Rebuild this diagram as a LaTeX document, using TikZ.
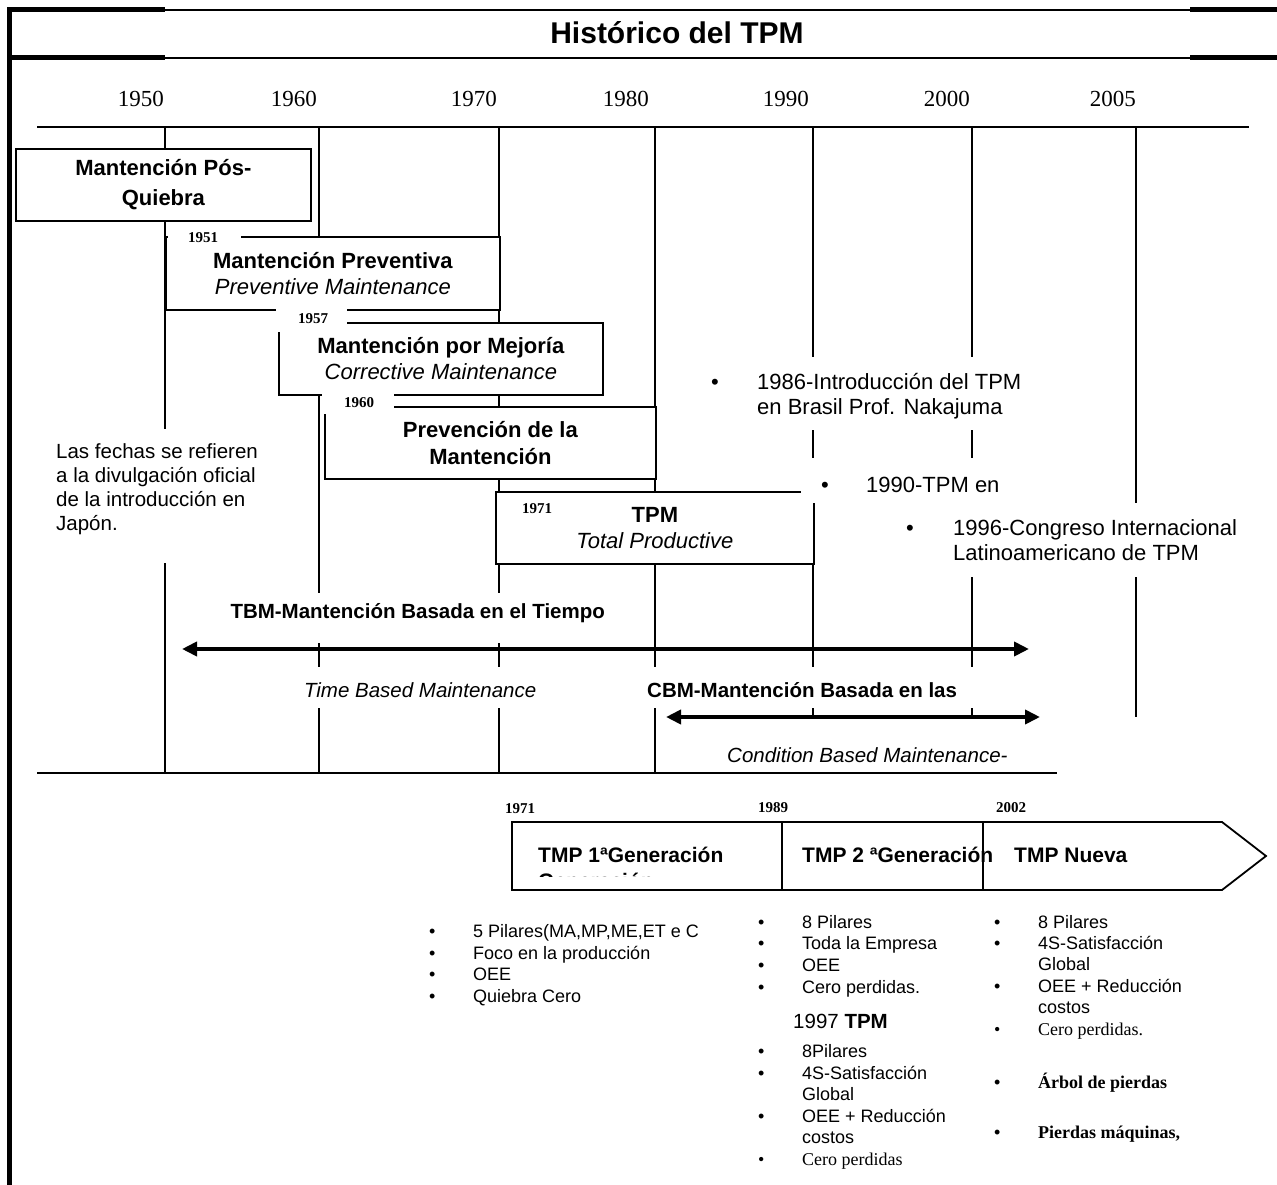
\documentclass[tikz,border=0pt]{standalone}
\usepackage{fontspec}
\setmainfont{Liberation Sans}
\newfontfamily\tms{Liberation Serif}
\usetikzlibrary{arrows.meta}

% bullet hanging to the left of an item's text
\newcommand{\bul}{\llap{\makebox[44pt][l]{•}}}

\begin{document}
\begin{tikzpicture}[x=1pt,y=-1pt,
  thinrule/.style={line width=1.6pt},
  thickrule/.style={line width=5pt},
  gridline/.style={line width=1.6pt},
  stage/.style={draw, line width=1.8pt, fill=white, inner sep=0pt, align=center, anchor=north west},
  boxtxt/.style={font=\fontsize{22}{26}\selectfont},
  mask/.style={fill=white, inner sep=0pt, anchor=base west},
  yearlab/.style={anchor=base east, inner sep=0pt, font=\tms\fontsize{23}{27}\selectfont},
  tag/.style={inner sep=0pt, anchor=base west, font=\tms\bfseries\fontsize{15}{17}\selectfont},
  period/.style={line width=4.5pt, {Triangle[length=15pt,width=14pt]}-{Triangle[length=15pt,width=14pt]}},
  item/.style={anchor=base west, inner sep=0pt, font=\fontsize{18}{21.5}\selectfont},
  titem/.style={anchor=base west, inner sep=0pt, font=\tms\fontsize{18}{21.5}\selectfont},
  gen/.style={anchor=base west, inner sep=0pt, font=\bfseries\fontsize{21}{25}\selectfont},
]
\useasboundingbox (0,0) rectangle (1277,1185);

% ---- frame and title band ----
\draw[thickrule] (9.5,7.5) -- (9.5,1185);
\foreach \yy in {10,58}{
  \draw[thickrule] (7,\yy) -- (165,\yy);
  \draw[thinrule] (165,\yy) -- (1190,\yy);
  \draw[thickrule] (1190,\yy) -- (1277,\yy);
}
\node[anchor=base, inner sep=0pt, font=\bfseries\fontsize{30}{34}\selectfont] (title) at (677,44) {Histórico del TPM};

% ---- decade scale ----
\foreach \yr/\x in {1950/164,1960/317,1970/497,1980/649,1990/809,2000/970,2005/1136}
  \node[yearlab] (y\yr) at (\x,107) {\yr};

\coordinate (axL) at (37,127);  \coordinate (axR) at (1249,127);
\coordinate (bxL) at (37,773);  \coordinate (bxR) at (1057,773);
\draw[gridline] (axL) -- (axR);
\draw[gridline] (bxL) -- (bxR);
\foreach \x in {165,319,499,655} \draw[gridline] (\x,127) -- (\x,773);
\foreach \x in {813,972,1136} \draw[gridline] (\x,127) -- (\x,717);

% ---- maintenance stages ----
\node[stage, font=\bfseries\fontsize{22}{26}\selectfont, minimum width=295pt, minimum height=72pt] (pq) at (15,148)
  {Mantención Pós-\\[4pt]Quiebra};
\node[stage, boxtxt, minimum width=334pt, minimum height=73pt] (mp) at (165,236)
  {\textbf{Mantención Preventiva}\\\textit{Preventive Maintenance}};
\node[stage, boxtxt, minimum width=324pt, minimum height=72pt] (mm) at (278,322)
  {\textbf{Mantención por Mejoría}\\\textit{Corrective Maintenance}};
\node[stage, boxtxt, minimum width=331pt, minimum height=72pt] (pm) at (324,406)
  {\textbf{Prevención de la}\\[1pt]\textbf{Mantención}};
\node[stage, boxtxt, minimum width=318pt, minimum height=72pt] (tpm) at (495,491)
  {\textbf{TPM}\\\textit{Total Productive}};

% year tags on the stage boxes
\node[tag, fill=white, text height=19pt, text depth=5pt] (t1951) at (168,243) {\makebox[73pt][l]{\hspace*{20pt}1951}};
\node[tag, fill=white, text height=21pt, text depth=9pt] (t1957) at (276,323) {\makebox[71pt][l]{\hspace*{22pt}1957}};
\node[tag, fill=white, text height=19pt, text depth=7pt] (t1960) at (322,407) {\makebox[72pt][l]{\hspace*{22pt}1960}};
\node[tag] (t1971) at (522,513) {1971};

% ---- notes ----
\node[mask, font=\fontsize{20.5}{24}\selectfont, text height=29pt, text depth=105pt] (note) at (45,458)
  {\makebox[245pt][l]{\hspace*{11pt}\parbox[t]{230pt}{Las fechas se refieren\\a la divulgación oficial\\de la introducción en\\Japón.}}};
\node[mask, font=\fontsize{22}{25}\selectfont, text height=32pt, text depth=41pt] (n1986) at (703,389)
  {\makebox[360pt][l]{\hspace*{8pt}\makebox[46pt][l]{•}\parbox[t]{300pt}{1986-Introducción del TPM\\en Brasil Prof. Nakajuma}}};
\node[mask, font=\fontsize{22}{25}\selectfont, text height=34pt, text depth=11pt] (n1990) at (801,492)
  {\makebox[300pt][l]{\hspace*{20pt}\makebox[45pt][l]{•}1990-TPM en}};
\node[mask, font=\fontsize{22}{25}\selectfont, text height=32pt, text depth=42pt] (n1996) at (895,535)
  {\makebox[365pt][l]{\hspace*{11pt}\makebox[47pt][l]{•}\parbox[t]{300pt}{1996-Congreso Internacional\\Latinoamericano de TPM}}};

% ---- TBM / CBM periods ----
\node[mask, font=\bfseries\fontsize{20.5}{24}\selectfont, text height=25pt, text depth=25pt] (tbm) at (215,618)
  {\makebox[405pt][c]{TBM-Mantención Basada en el Tiempo}};
\node[mask, font=\itshape\fontsize{20.5}{24}\selectfont, text height=30pt, text depth=11pt] (tbmen) at (280,697)
  {\makebox[280pt][c]{Time Based Maintenance}};
\node[mask, font=\bfseries\fontsize{20.5}{24}\selectfont, text height=30pt, text depth=11pt] (cbm) at (640,697)
  {\makebox[360pt][l]{\hspace*{7pt}CBM-Mantención Basada en las}};
\node[anchor=base west, inner sep=0pt, font=\itshape\fontsize{20.5}{24}\selectfont] (cbmen) at (727,762)
  {Condition Based Maintenance-};

\coordinate (tbmA) at (182,649); \coordinate (tbmB) at (1029,649);
\coordinate (cbmA) at (666,717); \coordinate (cbmB) at (1040,717);
\draw[period] (tbmA) -- (tbmB);
\draw[period] (cbmA) -- (cbmB);

% ---- TPM generations ----
\coordinate (gA) at (512,822); \coordinate (gB) at (1222,822);
\coordinate (gT) at (1266,856); \coordinate (gC) at (1222,890);
\coordinate (gD) at (512,890);
\draw[line width=1.8pt, line join=miter] (gA) -- (gB) -- (gT) -- (gC) -- (gD) -- cycle;
\coordinate (d1t) at (782,822); \coordinate (d1b) at (782,890);
\coordinate (d2t) at (983,822); \coordinate (d2b) at (983,890);
\draw[gridline] (d1t) -- (d1b);
\draw[gridline] (d2t) -- (d2b);

\node[tag] (g1971) at (505,813) {1971};
\node[tag] (g1989) at (758,812) {1989};
\node[tag] (g2002) at (996,812) {2002};

\node[gen] (g1) at (538,862) {TMP 1ªGeneración};
\begin{scope}
  \clip (512,822) rectangle (782,876);
  \node[gen] (g1b) at (538,888) {Generación};
\end{scope}
\node[gen] (g2) at (802,862) {TMP 2 ªGeneración};
\node[gen] (g3) at (1014,862) {TMP Nueva};

% ---- first generation ----
\node[item] (a1) at (473,937) {\bul 5 Pilares(MA,MP,ME,ET e C};
\node[item] (a2) at (473,959) {\bul Foco en la producción};
\node[item] (a3) at (473,980) {\bul OEE};
\node[item] (a4) at (473,1002) {\bul Quiebra Cero};

% ---- second generation ----
\node[item] (b1) at (802,928) {\bul 8 Pilares};
\node[item] (b2) at (802,949) {\bul Toda la Empresa};
\node[item] (b3) at (802,971) {\bul OEE};
\node[item] (b4) at (802,993) {\bul Cero perdidas.};
\node[anchor=base west, inner sep=0pt, font=\fontsize{20.5}{24}\selectfont] (b97) at (793,1028) {1997 \textbf{TPM}};
\node[item] (b5) at (802,1057) {\bul 8Pilares};
\node[item] (b6) at (802,1079) {\bul\parbox[t]{170pt}{4S-Satisfacción\\Global}};
\node[item] (b7) at (802,1122) {\bul\parbox[t]{170pt}{OEE + Reducción\\costos}};
\node[titem] (b8) at (802,1165) {\bul Cero perdidas};

% ---- new generation ----
\node[item] (c1) at (1038,928) {\bul 8 Pilares};
\node[item] (c2) at (1038,949) {\bul\parbox[t]{170pt}{4S-Satisfacción\\Global}};
\node[item] (c3) at (1038,992) {\bul\parbox[t]{170pt}{OEE + Reducción\\costos}};
\node[titem] (c4) at (1038,1035) {\bul Cero perdidas.};
\node[titem, font=\tms\bfseries\fontsize{18}{21.5}\selectfont] (c5) at (1038,1088) {\bul Árbol de pierdas};
\node[titem, font=\tms\bfseries\fontsize{18}{21.5}\selectfont] (c6) at (1038,1138) {\bul Pierdas máquinas,};

\end{tikzpicture}
\end{document}
